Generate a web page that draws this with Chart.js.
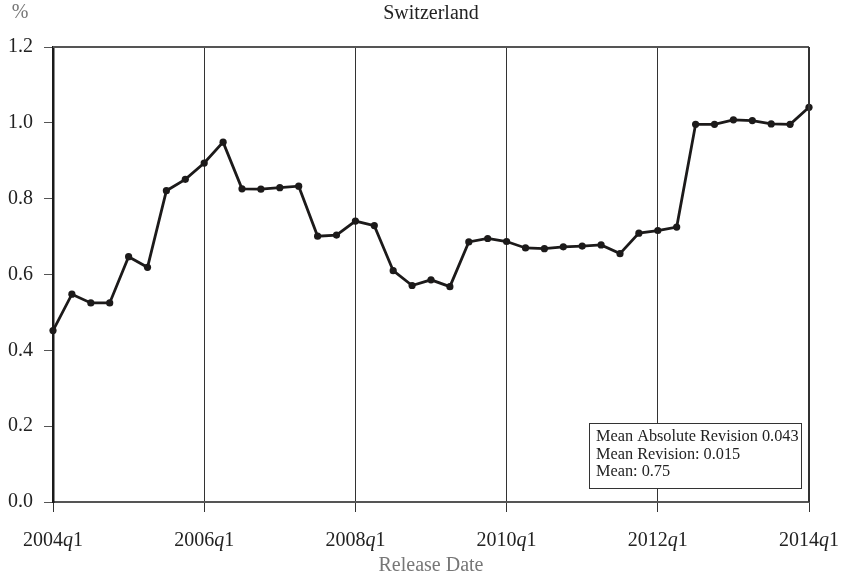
<!DOCTYPE html>
<html>
<head>
<meta charset="utf-8">
<script src="https://cdn.jsdelivr.net/npm/chart.js@4"></script>
<style>
  html, body { margin: 0; padding: 0; background: #fff; }
  #wrap { width: 847px; height: 581px; }
</style>
</head>
<body>
<div id="wrap"><canvas id="chart"></canvas></div>
<script>
// quarters from 2004q1 to 2014q1
const years = [2004, 2005, 2006, 2007, 2008, 2009, 2010, 2011, 2012, 2013, 2014];
const quarters = [];
years.forEach(y => {
  [1, 2, 3, 4].forEach(q => {
    if (y < 2014 || q === 1) quarters.push(y + 'q' + q);
  });
});

const values = [
  0.452, 0.548, 0.525, 0.525, 0.647, 0.619, 0.821, 0.851, 0.894, 0.949,
  0.826, 0.825, 0.829, 0.833, 0.701, 0.704, 0.741, 0.729, 0.610, 0.571,
  0.586, 0.568, 0.686, 0.695, 0.687, 0.670, 0.668, 0.673, 0.675, 0.678,
  0.655, 0.709, 0.716, 0.725, 0.996, 0.996, 1.008, 1.006, 0.997, 0.996,
  1.041
];

const yTicks = [0, 0.2, 0.4, 0.6, 0.8, 1.0, 1.2];
const xTickLabels = ['2004q1', '2006q1', '2008q1', '2010q1', '2012q1', '2014q1'];
const statsLines = ['Mean Absolute Revision 0.043', 'Mean Revision: 0.015', 'Mean: 0.75'];

const serif = '"Liberation Serif", "DejaVu Serif", serif';
const isMajor = i => xTickLabels.includes(quarters[i]);

// titles, border, x labels and the stats box
const decorPlugin = {
  id: 'decor',
  afterDraw: (chart) => {
    const ctx = chart.ctx;
    const area = chart.chartArea;
    const xs = chart.scales.x;
    ctx.save();

    // top and right frame
    ctx.strokeStyle = '#555';
    ctx.lineWidth = 2;
    ctx.beginPath();
    ctx.moveTo(area.left, area.top);
    ctx.lineTo(area.right, area.top);
    ctx.stroke();
    ctx.strokeStyle = '#333';
    ctx.beginPath();
    ctx.moveTo(area.right, area.top);
    ctx.lineTo(area.right, area.bottom);
    ctx.stroke();

    // headings
    ctx.fillStyle = '#222';
    ctx.font = `20px ${serif}`;
    ctx.textAlign = 'center';
    ctx.textBaseline = 'middle';
    ctx.fillText('Switzerland', (area.left + area.right) / 2, 14);
    ctx.fillStyle = '#777';
    ctx.fillText('%', 20, 13);
    ctx.fillText('Release Date', (area.left + area.right) / 2, 566);

    // x tick labels with italic q
    ctx.fillStyle = '#222';
    xTickLabels.forEach(lab => {
      const px = xs.getPixelForValue(quarters.indexOf(lab));
      const parts = [lab.slice(0, 4), 'q', lab.slice(5)];
      const fonts = [`20px ${serif}`, `italic 20px ${serif}`, `20px ${serif}`];
      let total = 0;
      parts.forEach((p, i) => { ctx.font = fonts[i]; total += ctx.measureText(p).width; });
      let x = px - total / 2;
      ctx.textAlign = 'left';
      parts.forEach((p, i) => {
        ctx.font = fonts[i];
        ctx.fillText(p, x, 541);
        x += ctx.measureText(p).width;
      });
    });

    // stats box
    const bx = area.right - 220, by = area.bottom - 79, bw = 212, bh = 65;
    ctx.fillStyle = '#fff';
    ctx.fillRect(bx, by, bw, bh);
    ctx.strokeStyle = '#333';
    ctx.lineWidth = 1;
    ctx.strokeRect(bx + 0.5, by + 0.5, bw, bh);
    ctx.fillStyle = '#222';
    ctx.font = `16.3px ${serif}`;
    ctx.textAlign = 'left';
    statsLines.forEach((t, i) => ctx.fillText(t, bx + 7, by + 14 + i * 17.5));

    ctx.restore();
  }
};

new Chart(document.getElementById('chart'), {
  type: 'line',
  data: {
    labels: quarters,
    datasets: [{
      data: values,
      borderColor: '#1c1a1a',
      backgroundColor: '#1c1a1a',
      borderWidth: 2.8,
      pointRadius: 3.6,
      pointBorderWidth: 0,
      tension: 0
    }]
  },
  options: {
    responsive: true,
    maintainAspectRatio: false,
    animation: false,
    layout: { padding: { top: 47, right: 38, left: 0, bottom: 0 } },
    plugins: { legend: { display: false }, tooltip: { enabled: false } },
    scales: {
      x: {
        type: 'category',
        offset: false,
        afterFit: s => { s.height = 79; },
        border: { color: '#555', width: 2 },
        grid: {
          color: c => isMajor(c.index) ? '#333' : 'rgba(0,0,0,0)',
          lineWidth: 1,
          tickLength: 10,
          drawOnChartArea: true
        },
        ticks: {
          autoSkip: false,
          maxRotation: 0,
          callback: () => ''
        }
      },
      y: {
        min: 0,
        max: 1.2,
        afterFit: s => { s.width = 53; },
        afterBuildTicks: s => { s.ticks = yTicks.map(v => ({ value: v })); },
        border: { color: '#1a1a1a', width: 2.5 },
        grid: { drawOnChartArea: false, tickLength: 9, color: '#555' },
        ticks: {
          padding: 11,
          color: '#222',
          font: { family: serif, size: 20 },
          callback: v => v.toFixed(1)
        }
      }
    }
  },
  plugins: [decorPlugin]
});
</script>
</body>
</html>
